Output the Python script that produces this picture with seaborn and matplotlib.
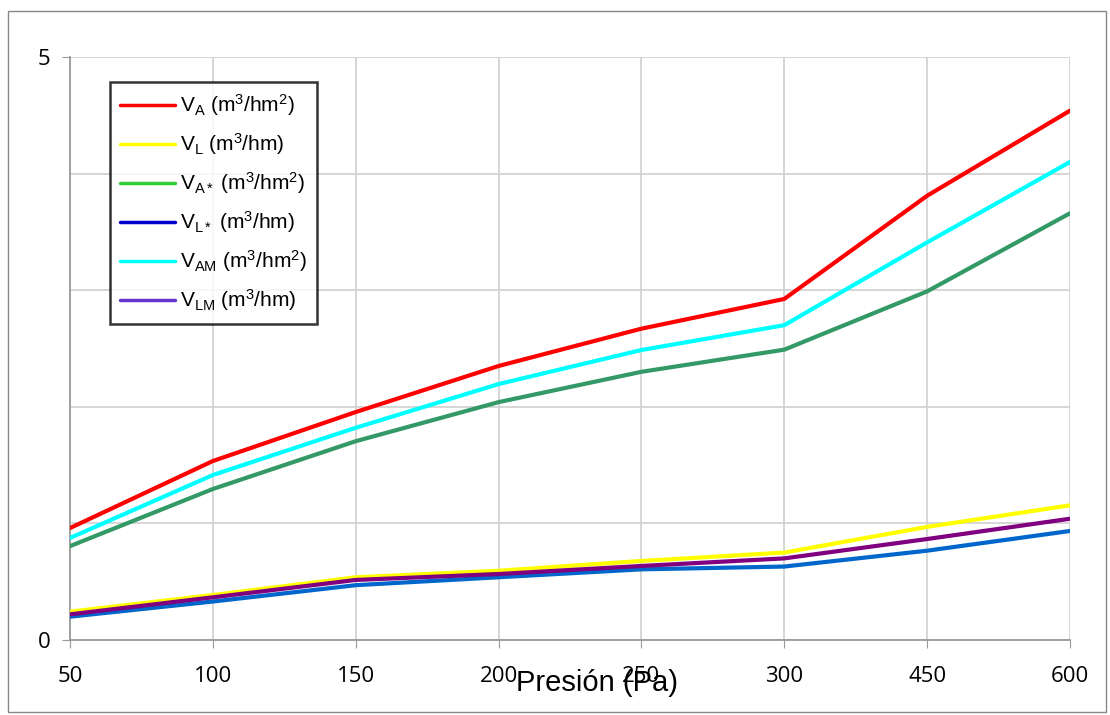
import matplotlib
matplotlib.use("Agg")
import matplotlib.pyplot as plt
import seaborn as sns
import pandas as pd
from matplotlib.lines import Line2D
from matplotlib.patches import Rectangle

presion = ["50", "100", "150", "200", "250", "300", "450", "600"]
V_A = [0.96, 1.535, 1.955, 2.35, 2.67, 2.925, 3.81, 4.54]
V_L = [0.243, 0.386, 0.538, 0.594, 0.678, 0.75, 0.97, 1.155]
V_As = [0.805, 1.295, 1.705, 2.04, 2.30, 2.49, 2.99, 3.66]
V_Ls = [0.20, 0.33, 0.47, 0.538, 0.606, 0.63, 0.766, 0.935]
V_AM = [0.875, 1.415, 1.82, 2.195, 2.487, 2.70, 3.41, 4.10]
V_LM = [0.22, 0.366, 0.515, 0.566, 0.635, 0.70, 0.866, 1.04]

series_names = [
    r"V$_{\mathregular{A}}$ (m$^{\mathregular{3}}$/hm$^{\mathregular{2}}$)",
    r"V$_{\mathregular{L}}$ (m$^{\mathregular{3}}$/hm)",
    r"V$_{\mathregular{A*}}$ (m$^{\mathregular{3}}$/hm$^{\mathregular{2}}$)",
    r"V$_{\mathregular{L*}}$ (m$^{\mathregular{3}}$/hm)",
    r"V$_{\mathregular{AM}}$ (m$^{\mathregular{3}}$/hm$^{\mathregular{2}}$)",
    r"V$_{\mathregular{LM}}$ (m$^{\mathregular{3}}$/hm)",
]
series_values = [V_A, V_L, V_As, V_Ls, V_AM, V_LM]
line_colors = ["#FF0000", "#FFFF00", "#339966", "#0066CC", "#00FFFF", "#800080"]
legend_colors = ["#FF0000", "#FFFF00", "#33CC33", "#0000CC", "#00FFFF", "#6633CC"]

rows = []
for name, vals in zip(series_names, series_values):
    for i, v in enumerate(vals):
        rows.append({"idx": i, "val": v, "serie": name})
df = pd.DataFrame(rows)

sns.set_style("white")
plt.rcParams["font.family"] = ["Liberation Sans", "DejaVu Sans"]
plt.rcParams["mathtext.fontset"] = "custom"
plt.rcParams["mathtext.rm"] = "Liberation Sans"
plt.rcParams["mathtext.it"] = "Liberation Sans"
plt.rcParams["text.color"] = "black"
plt.rcParams["xtick.color"] = "black"
plt.rcParams["ytick.color"] = "black"
plt.rcParams["axes.labelcolor"] = "black"

fig = plt.figure(figsize=(11.1, 7.15), dpi=100)
ax = fig.add_axes([70 / 1110, 1 - 640 / 715, 1000 / 1110, 583 / 715])

order = [1, 5, 3, 2, 4, 0]
for k in order:
    sub = df[df["serie"] == series_names[k]]
    sns.lineplot(data=sub, x="idx", y="val", color=line_colors[k], linewidth=3,
                 ax=ax, legend=False, zorder=3 + k * 0.1)

ax.set_xlim(0, 7)
ax.set_ylim(0, 5)
ax.set_xticks(range(len(presion)))
ax.set_xticklabels(presion, fontsize=16, family=["Open Sans", "DejaVu Sans"])
ax.set_yticks([0, 5])
ax.set_yticklabels(["0", "5"], fontsize=16, family=["Open Sans", "DejaVu Sans"])
ax.set_yticks([1, 2, 3, 4], minor=True)
ax.tick_params(axis="y", which="minor", length=0)
ax.tick_params(axis="both", which="major", length=6, color="#999999", direction="out",
               bottom=True, left=True, labelcolor="black")
ax.tick_params(axis="y", pad=8)
ax.tick_params(axis="x", pad=13)
ax.grid(True, which="both", color="#D0D0D0", linewidth=1.2)
ax.set_axisbelow(True)
for s in ["top", "right"]:
    ax.spines[s].set_visible(False)
for s in ["left", "bottom"]:
    ax.spines[s].set_color("#999999")
    ax.spines[s].set_linewidth(1.3)

ax.set_xlabel("Presión (Pa)", fontsize=21, family=["Liberation Sans", "DejaVu Sans"], color="black")
ax.set_ylabel("")
ax.xaxis.set_label_coords(0.527, -0.050)

handles = [Line2D([0], [0], color=c, linewidth=2.5) for c in legend_colors]
leg = ax.legend(handles, series_names, loc="upper left", bbox_to_anchor=(40 / 1000, 1 - 25 / 583),
                borderaxespad=0, frameon=True, fancybox=False, fontsize=15, handlelength=2.6,
                labelspacing=0.63, borderpad=0.5, handletextpad=0.25)
leg.get_frame().set_edgecolor("black")
leg.get_frame().set_linewidth(1.8)

fig.patches.append(Rectangle((8 / 1110, 1 - 712 / 715), 1098 / 1110, 701 / 715,
                             transform=fig.transFigure, fill=False,
                             edgecolor="#888888", linewidth=1))

fig.savefig("out.png", dpi=100)
